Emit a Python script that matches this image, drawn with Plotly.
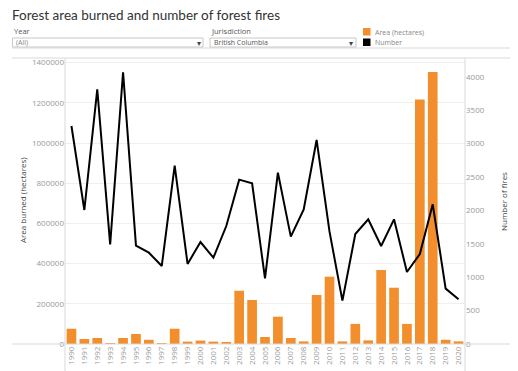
import plotly.graph_objects as go

years = list(range(1990, 2021))
area_hectares = [76000, 25000, 30000, 5000, 30000, 50000, 21000, 1500, 76000, 12000,
                 17000, 12000, 8000, 265000, 219000, 35000, 136000, 30000, 13000, 244000,
                 335000, 13000, 100000, 18000, 368000, 280000, 100000, 1217000, 1353000, 21000,
                 13000]
num_fires = [3263, 2006, 3813, 1492, 4067, 1472, 1367, 1168, 2670, 1198,
             1527, 1292, 1766, 2460, 2405, 983, 2565, 1607, 2016, 3054,
             1681, 649, 1647, 1866, 1467, 1866, 1078, 1347, 2091, 829,
             669]
left_ticks = [0, 200000, 400000, 600000, 800000, 1000000, 1200000, 1400000]
right_ticks = [0, 500, 1000, 1500, 2000, 2500, 3000, 3500, 4000]

# page body has an 8px margin; work in reference pixel coords and shift
OFF = 8
W, H = 518 - OFF, 371 - OFF
L, R, T, B = 65, 465, 58, 344  # plot area in reference pixels
FONT = "Open Sans"

def px(x):
    return (x - L) / (R - L)

def py(y):
    return (B - y) / (B - T)

fig = go.Figure()
fig.add_trace(go.Bar(x=years, y=area_hectares, marker=dict(color="#F28E2B", line=dict(width=0)),
                     name="Area (hectares)", yaxis="y"))
fig.add_trace(go.Scatter(x=years, y=num_fires, mode="lines", line=dict(color="black", width=2),
                         name="Number", yaxis="y2"))

tick_font = dict(family=FONT, size=8, color="#999999")

fig.update_layout(
    width=W, height=H,
    margin=dict(l=L - OFF, r=518 - R, t=T - OFF, b=371 - B, pad=0, autoexpand=False),
    paper_bgcolor="white", plot_bgcolor="white",
    showlegend=False,
    bargap=0.25,
    xaxis=dict(range=[1989.5, 2020.5], tickmode="array", tickvals=years,
               ticktext=[str(y) for y in years], tickangle=-90, tickfont=tick_font,
               showgrid=False, zeroline=False, showline=False, ticks="", automargin=False),
    yaxis=dict(range=[0, 1423000], tickmode="array", tickvals=left_ticks,
               ticktext=[str(v) for v in left_ticks], tickfont=tick_font,
               showgrid=True, gridcolor="#efefef", gridwidth=1, zeroline=False,
               showline=False, ticks="", automargin=False),
    yaxis2=dict(range=[0, 4281], overlaying="y", side="right", tickmode="array",
                tickvals=right_ticks, ticktext=[str(v) for v in right_ticks],
                tickfont=tick_font, showgrid=False, zeroline=False, showline=False,
                ticks="", automargin=False),
)

line_col = "#d9d9d9"
shapes = [
    dict(type="line", xref="paper", yref="paper", x0=px(12), x1=px(518), y0=py(48), y1=py(48),
         line=dict(color=line_col, width=1)),
    dict(type="line", xref="paper", yref="paper", x0=px(12), x1=px(518), y0=py(58), y1=py(58),
         line=dict(color=line_col, width=1)),
    dict(type="line", xref="paper", yref="paper", x0=px(12), x1=px(518), y0=py(344), y1=py(344),
         line=dict(color=line_col, width=1)),
    dict(type="line", xref="paper", yref="paper", x0=0, x1=0, y0=py(371), y1=py(58),
         line=dict(color=line_col, width=1)),
    dict(type="line", xref="paper", yref="paper", x0=1, x1=1, y0=py(371), y1=py(58),
         line=dict(color=line_col, width=1)),
    dict(type="rect", xref="paper", yref="paper", x0=px(12.5), x1=px(203), y0=py(47), y1=py(38),
         line=dict(color="#c8c8c8", width=1), fillcolor="white"),
    dict(type="rect", xref="paper", yref="paper", x0=px(210), x1=px(356), y0=py(47), y1=py(38),
         line=dict(color="#c8c8c8", width=1), fillcolor="white"),
    dict(type="rect", xref="paper", yref="paper", x0=px(363), x1=px(370.5), y0=py(35.5), y1=py(28),
         line=dict(width=0), fillcolor="#F28E2B"),
    dict(type="rect", xref="paper", yref="paper", x0=px(363), x1=px(370.5), y0=py(46), y1=py(38.5),
         line=dict(width=0), fillcolor="black"),
]
fig.update_layout(shapes=shapes)

def ann(text, x, y, size=8, color="#555", xanchor="left", yanchor="middle", angle=0, family=FONT):
    fig.add_annotation(text=text, x=px(x), y=py(y), xref="paper", yref="paper",
                       showarrow=False, xanchor=xanchor, yanchor=yanchor, textangle=angle,
                       font=dict(family=family, size=size, color=color))

ann("Forest area burned and number of forest fires", 10, 15, size=13.5, color="#333", family="Lato")
ann("Year", 12, 31, size=7.5, color="#555")
ann("Jurisdiction", 209, 31, size=7.5, color="#555")
ann("(All)", 14, 42.5, size=7, color="#888")
ann("British Columbia", 212, 42.5, size=7, color="#555")
ann("▾", 199, 42.5, size=8, color="#444", xanchor="center")
ann("▾", 351, 42.5, size=8, color="#444", xanchor="center")
ann("Area (hectares)", 373, 32, size=7, color="#888")
ann("Number", 373, 43, size=7, color="#888")
ann("Area burned (hectares)", 22, 200, size=8, color="#444", xanchor="center", angle=-90)
ann("Number of fires", 503, 202, size=8, color="#444", xanchor="center", angle=-90)

fig.write_html("out.html")
